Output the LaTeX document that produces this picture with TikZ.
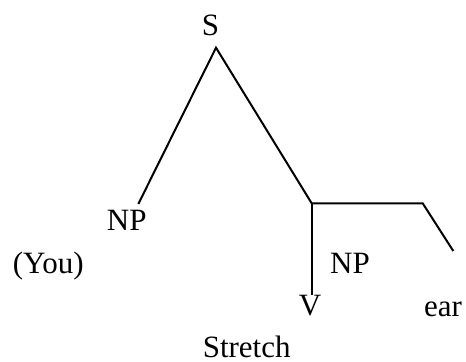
\documentclass[tikz,border=0pt]{standalone}
\usepackage{fontspec}
\setmainfont{Liberation Serif}
\usepackage{tikz}
\begin{document}
\begin{tikzpicture}[x=0.5pt,y=-0.5pt,lab/.style={font=\fontsize{15.5}{18}\selectfont,anchor=base,inner sep=0pt}]
\useasboundingbox (0,0) rectangle (466,361);
\node[lab] (s) at (210.5,35.5) {S};
\node[lab] (npleft) at (126.7,230) {NP};
\node[lab] (you) at (48.3,273.3) {(You)};
\node[lab] (npright) at (350,273.3) {NP};
\node[lab] (v) at (310,315) {V};
\node[lab] (ear) at (443,316) {ear};
\node[lab] (stretch) at (246.7,357) {Stretch};
\coordinate (apex) at (216,47.7);
\coordinate (npend) at (138.3,204);
\coordinate (joint) at (311.7,203.3);
\coordinate (bend) at (422.7,203.3);
\coordinate (earend) at (453.3,251);
\coordinate (vend) at (311.7,295);
\draw[line width=1pt] (npend) -- (apex) -- (joint);
\draw[line width=1pt] (joint) -- (bend) -- (earend);
\draw[line width=1pt] (joint) -- (vend);
\end{tikzpicture}
\end{document}
